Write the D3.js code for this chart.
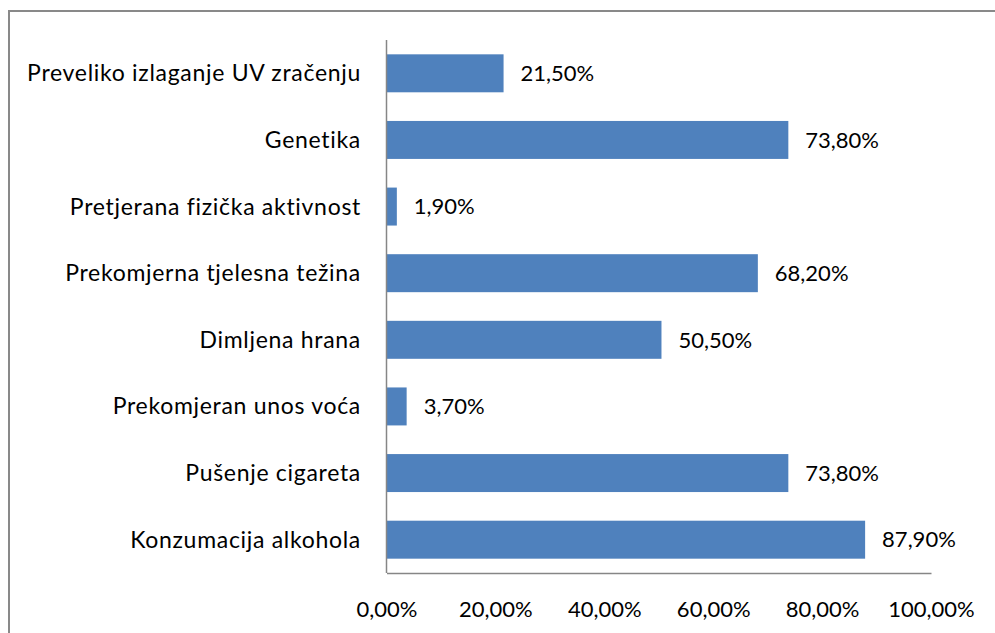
<!DOCTYPE html>
<html>
<head>
<meta charset="utf-8">
<style>
  body { margin: 0; background: #fff; }
  text { font-family: Lato, "Noto Sans", sans-serif; fill: #000; font-variant-ligatures: none; }
</style>
</head>
<body>
<svg width="995" height="633"></svg>
<script src="https://d3js.org/d3.v7.min.js"></script>
<script>
var categories = ["Preveliko izlaganje UV zračenju", "Genetika", "Pretjerana fizička aktivnost",
  "Prekomjerna tjelesna težina", "Dimljena hrana", "Prekomjeran unos voća",
  "Pušenje cigareta", "Konzumacija alkohola"];
var values = [21.5, 73.8, 1.9, 68.2, 50.5, 3.7, 73.8, 87.9];
var xTicks = [0, 20, 40, 60, 80, 100];

var svg = d3.select("svg");
var fs = 22;

// outer frame
svg.append("rect")
    .attr("x", 9).attr("y", 11)
    .attr("width", 1000).attr("height", 700)
    .attr("fill", "none")
    .attr("stroke", "#898989")
    .attr("stroke-width", 2);

var x = d3.scaleLinear().domain([0, 100]).range([386.5, 931]);
var y = d3.scaleBand().domain(categories).range([40, 573]).paddingInner(0.43).paddingOuter(0.215);

var fmt = function(v) { return v.toFixed(2).replace(".", ",") + "%"; };

svg.selectAll("rect.bar")
  .data(categories)
  .enter().append("rect")
    .attr("class", "bar")
    .attr("x", x(0))
    .attr("y", function(d) { return y(d); })
    .attr("width", function(d, i) { return x(values[i]) - x(0); })
    .attr("height", y.bandwidth())
    .attr("fill", "#4F81BD");

svg.selectAll("text.val")
  .data(categories)
  .enter().append("text")
    .attr("class", "val")
    .attr("x", function(d, i) { return x(values[i]) + 17; })
    .attr("y", function(d) { return y(d) + y.bandwidth() / 2; })
    .attr("dy", "0.35em")
    .style("font-size", fs + "px")
    .text(function(d, i) { return fmt(values[i]); });

svg.selectAll("text.cat")
  .data(categories)
  .enter().append("text")
    .attr("class", "cat")
    .attr("x", 361)
    .attr("y", function(d) { return y(d) + y.bandwidth() / 2; })
    .attr("dy", "0.35em")
    .attr("text-anchor", "end")
    .style("font-size", "23px")
    .style("letter-spacing", "0.7px")
    .text(function(d) { return d; });

// axes
var xAxis = svg.append("g")
    .attr("transform", "translate(0,573)")
    .call(d3.axisBottom(x).tickValues(xTicks).tickSize(0).tickPadding(28)
      .tickFormat(function(v) { return fmt(v); }));
xAxis.select(".domain").attr("stroke", "#868686").attr("stroke-width", 1.5);
xAxis.selectAll("text").style("font-size", fs + "px").style("font-family", "Lato, 'Noto Sans', sans-serif").attr("fill", "#000");

svg.append("line")
    .attr("x1", x(0)).attr("x2", x(0))
    .attr("y1", 40).attr("y2", 573)
    .attr("stroke", "#868686").attr("stroke-width", 1.5);
</script>
</body>
</html>
